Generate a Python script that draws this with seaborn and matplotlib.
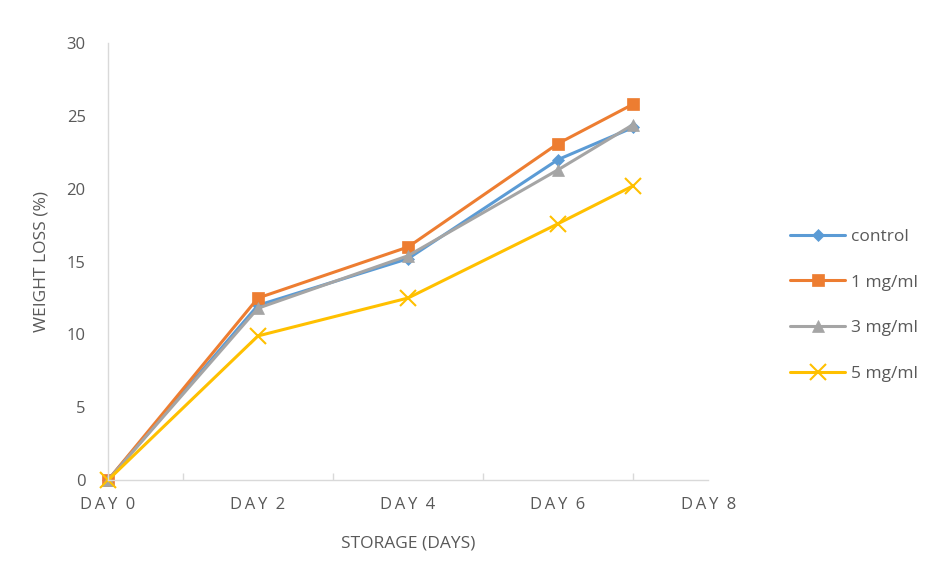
import pandas as pd
import numpy as np
import matplotlib.pyplot as plt
import seaborn as sns

# 数据
days = [0, 2, 4, 6, 7]
control = [0, 12.0, 15.2, 22.0, 24.2]
mg1 = [0, 12.5, 16.0, 23.1, 25.8]
mg3 = [0, 11.8, 15.4, 21.3, 24.4]
mg5 = [0, 9.9, 12.5, 17.6, 20.2]
groups = ['control', '1 mg/ml', '3 mg/ml', '5 mg/ml']
tick_days = [0, 2, 4, 6, 8]
tick_labels = ['DAY 0', 'DAY 2', 'DAY 4', 'DAY 6', 'DAY 8']

colors = {'control': '#5B9BD5', '1 mg/ml': '#ED7D31',
          '3 mg/ml': '#A5A5A5', '5 mg/ml': '#FFC000'}
markers = {'control': 'D', '1 mg/ml': 's', '3 mg/ml': '^', '5 mg/ml': 'x'}
msizes = {'control': 6, '1 mg/ml': 9, '3 mg/ml': 8, '5 mg/ml': 11}

df = pd.DataFrame({
    'day': days * 4,
    'loss': control + mg1 + mg3 + mg5,
    'group': np.repeat(groups, len(days)),
})

sns.set_theme(style='white')
plt.rcParams['font.family'] = ['Open Sans', 'DejaVu Sans']
text_c = '#595959'

fig = plt.figure(figsize=(9.38, 5.8), dpi=100)
ax = fig.add_axes([0.115, 0.172, 0.64, 0.754])

for g in groups:
    sub = df[df['group'] == g]
    sns.lineplot(data=sub, x='day', y='loss', ax=ax, color=colors[g],
                 marker=markers[g], markersize=msizes[g], linewidth=2.2,
                 markeredgecolor=colors[g], markeredgewidth=1.5 if g == '5 mg/ml' else 0.5,
                 label=g, clip_on=False)

# 字母间距加宽（模仿 Excel 的样式）
spaced = ['\u2009'.join(lab.replace(' ', '\u2009')) for lab in tick_labels]

ax.set_xlim(0, 8)
ax.set_ylim(0, 30)
ax.set_xticks(tick_days)
ax.set_xticklabels(spaced, family=['Open Sans', 'DejaVu Sans'])
ax.set_xticks([1, 3, 5, 7], minor=True)
ax.set_yticks(range(0, 31, 5))
ax.tick_params(axis='x', which='major', length=0, pad=12, labelsize=12, colors=text_c)
ax.tick_params(axis='x', which='minor', length=5, direction='in', color='#D9D9D9', bottom=True)
ax.tick_params(axis='y', length=0, pad=16, labelsize=12, colors=text_c)

for s in ['top', 'right']:
    ax.spines[s].set_visible(False)
for s in ['left', 'bottom']:
    ax.spines[s].set_color('#D9D9D9')
    ax.spines[s].set_linewidth(1.0)

ax.set_xlabel('STORAGE (DAYS)', fontsize=12.5, color=text_c, labelpad=16)
ax.set_ylabel('WEIGHT LOSS (%)', fontsize=12.5, color=text_c, labelpad=12)

leg = ax.legend(loc='center left', bbox_to_anchor=(1.11, 0.4), frameon=False,
                fontsize=12.5, labelspacing=1.7, handlelength=3.2, handletextpad=0.3)
for t in leg.get_texts():
    t.set_color(text_c)

plt.savefig('out.png', dpi=100)
